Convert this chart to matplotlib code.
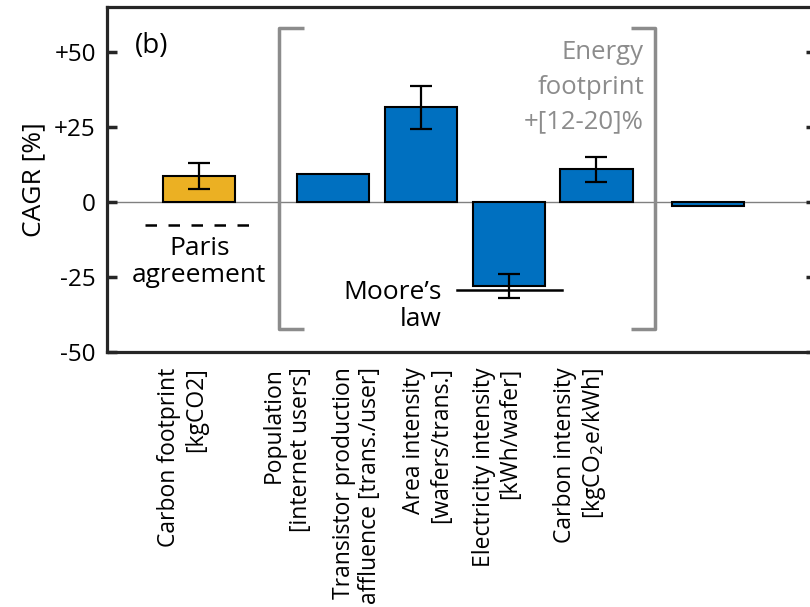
import matplotlib.pyplot as plt
from matplotlib.path import Path
from matplotlib.patches import PathPatch

plt.rcParams['font.family'] = ['Open Sans', 'DejaVu Sans']

# bar data (CAGR in %)
bar_pos = [0.0, 1.52, 2.52, 3.52, 4.51, 5.78]
bar_vals = [8.7, 9.4, 31.7, -28.0, 10.9, -1.3]
bar_colors = ['#EBB023', '#0070C0', '#0070C0', '#0070C0', '#0070C0', '#0070C0']
err_low = [4.4, 0, 7.3, 4.1, 4.1, 0]
err_high = [4.2, 0, 7.1, 4.0, 4.3, 0]
has_err = [True, False, True, True, True, False]

# category labels, placed independently of the bars
label_pos = [-0.19, 1.0, 1.79, 2.59, 3.38, 4.33]
labels = [
    'Carbon footprint\n[kgCO2]',
    'Population\n[internet users]',
    'Transistor production\naffluence [trans./user]',
    'Area intensity\n[wafers/trans.]',
    'Electricity intensity\n[kWh/wafer]',
    'Carbon intensity\n[kgCO$_2$e/kWh]',
]

paris_target = -7.7
moores_law = -29.3

fig = plt.figure(figsize=(8.1, 6.07), dpi=100)
ax = fig.add_axes([0.132, 0.420, 0.875, 0.568])

ax.axhline(0, color='#808080', lw=1.0, zorder=1)

ax.bar(bar_pos, bar_vals, width=0.82, color=bar_colors, edgecolor='black',
       linewidth=1.5, zorder=2)
for x, v, lo, hi, e in zip(bar_pos, bar_vals, err_low, err_high, has_err):
    if e:
        ax.errorbar(x, v, yerr=[[lo], [hi]], fmt='none', ecolor='black',
                    elinewidth=1.6, capsize=8, capthick=1.6, zorder=3)

# Paris agreement target
ax.plot([-0.62, 0.6], [paris_target, paris_target], color='black', lw=1.8,
        ls=(0, (4.6, 4.6)), zorder=3)
ax.text(0.0, -11.3, 'Paris\nagreement', ha='center', va='top', fontsize=19,
        linespacing=1.1)

# Moore's law reference
ax.plot([2.93, 4.12], [moores_law, moores_law], color='black', lw=1.8, zorder=4)
ax.text(2.75, -34.7, 'Moore\u2019s\nlaw', ha='right', va='center', fontsize=19,
        linespacing=1.1, multialignment='right')

# grey bracket around the energy footprint terms
def bracket(x0, hook, ytop, ybot):
    verts = [(x0 + hook, ytop), (x0, ytop), (x0, ybot), (x0 + hook, ybot)]
    codes = [Path.MOVETO, Path.LINETO, Path.LINETO, Path.LINETO]
    return PathPatch(Path(verts, codes), fill=False, edgecolor='#8C8C8C',
                     lw=2.5, joinstyle='round', capstyle='butt', zorder=1)

ax.add_patch(bracket(0.91, 0.28, 58, -42.3))
ax.add_patch(bracket(5.18, -0.28, 58, -42.3))
ax.text(5.05, 38.3, 'Energy\nfootprint\n+[12-20]%', ha='right', va='center',
        color='#8C8C8C', fontsize=18.5, linespacing=1.5,
        multialignment='right')

ax.text(-0.73, 52.2, '(b)', ha='left', va='center', fontsize=20)

ax.set_xlim(-1.05, 7.0)
ax.set_ylim(-50, 65)
ax.set_yticks([-50, -25, 0, 25, 50])
ax.set_yticklabels(['-50', '-25', '0', '+25', '+50'], fontsize=17.5)
ax.set_ylabel('CAGR [%]', fontsize=19, labelpad=6)
ax.tick_params(axis='y', direction='in', length=7, width=2.5, pad=8,
               right=True, color='#262626')
ax.set_xticks(label_pos)
ax.set_xticklabels(labels, rotation=90, fontsize=16.5, ha='center', va='top',
                   multialignment='right', linespacing=1.15)
ax.tick_params(axis='x', length=0, pad=11)
for s in ax.spines.values():
    s.set_linewidth(2.3)
    s.set_color('#262626')

fig.savefig('out.png', dpi=100)
